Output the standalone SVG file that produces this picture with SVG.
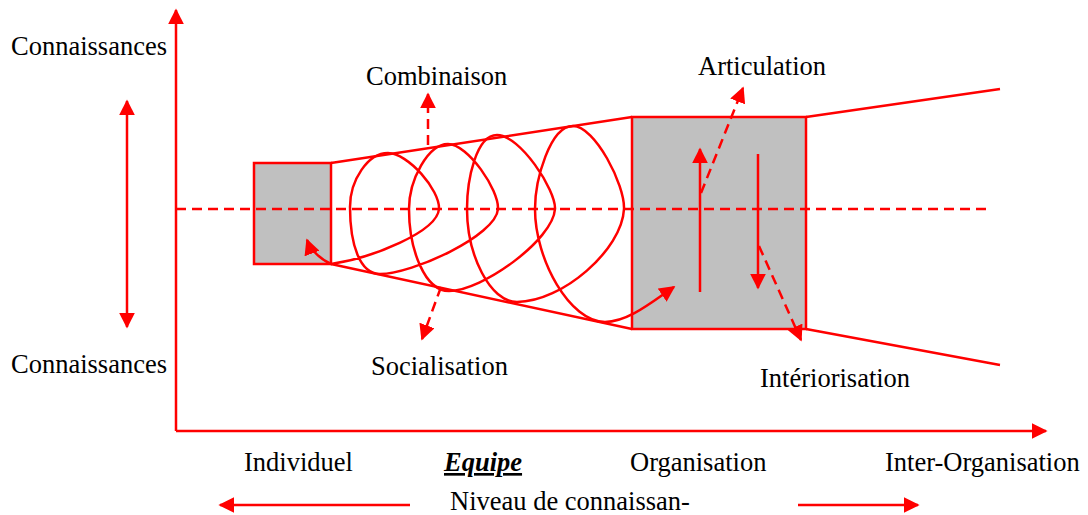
<svg xmlns="http://www.w3.org/2000/svg" width="1088" height="515" viewBox="0 0 1088 515">
<style>
.ln{stroke:#FF0000;stroke-width:2.5;fill:none}
.dsh{stroke:#FF0000;stroke-width:2.5;fill:none;stroke-dasharray:10 6}
.box{fill:#C0C0C0;stroke:#FF0000;stroke-width:2.5}
.t{font-family:"Liberation Serif","Times New Roman",serif;font-size:26.5px;fill:#000}
</style>
<defs>
<marker id="ah" viewBox="0 0 10 10" refX="9" refY="5" markerWidth="6.4" markerHeight="6.4" markerUnits="strokeWidth" orient="auto-start-reverse"><path d="M0,0 L10,5 L0,10 Z" fill="#FF0000"/></marker>
</defs>
<g id="axes">
<path class="ln" d="M176,431 L176,10" marker-end="url(#ah)"/>
<path class="ln" d="M176,431 L1046,431" marker-end="url(#ah)"/>
<path class="ln" d="M127,101 L127,327" marker-start="url(#ah)" marker-end="url(#ah)"/>
</g>
<g id="funnel">
<path class="ln" d="M331,163 L632,117 M331,264 L632,329 M806,117 L1000,89 M806,329 L1000,365"/>
</g>
<g id="individuel-box"><rect class="box" x="254" y="163" width="77" height="101"/></g>
<g id="organisation-box"><rect class="box" x="632" y="117" width="174" height="212"/></g>
<g id="centerline"><path class="dsh" d="M176,209 L992,209"/></g>
<g id="connectors">
<path class="ln" d="M331,264 C372,258 437,232 439,209 C440,190 408,153 388,153 C368,153 350,180 350,207 C350,245 360,274 380,274 C412,274 496,236 498,209 C499,190 468,144 448,144 C428,144 409,180 409,209 C409,250 425,291 449,291 C482,291 553,240 555,209 C556,190 520,135 497,135 C476,135 467,180 467,209 C467,255 490,302 517,302 C562,302 622,250 624,209 C625,185 595,126 573,126 C550,126 535,180 535,209 C535,260 570,322 605,322 C628,322 652,302 674,287" marker-end="url(#ah)"/>
<path class="ln" d="M331,264 C318,258 310,248 307,240" marker-end="url(#ah)"/>
<path class="dsh" d="M428,145 L428,94" marker-end="url(#ah)"/>
<path class="dsh" d="M441,287 L422,339" marker-end="url(#ah)"/>
<path class="dsh" d="M701,193 L743,88" marker-end="url(#ah)"/>
<path class="dsh" d="M759,246 L801,340" marker-end="url(#ah)"/>
<path class="ln" d="M700,292 L700,149" marker-end="url(#ah)"/>
<path class="ln" d="M758,154 L758,288" marker-end="url(#ah)"/>
<path class="ln" d="M410,505 L220,505" marker-end="url(#ah)"/>
<path class="ln" d="M798,505 L918,505" marker-end="url(#ah)"/>
</g>
<g id="labels">
<text class="t" x="11" y="55">Connaissances</text>
<text class="t" x="11" y="373">Connaissances</text>
<text class="t" x="366" y="85">Combinaison</text>
<text class="t" x="698" y="75">Articulation</text>
<text class="t" x="371" y="375">Socialisation</text>
<text class="t" x="760" y="387">Intériorisation</text>
<text class="t" x="244" y="471">Individuel</text>
<text class="t" x="444" y="471" style="font-weight:bold;font-style:italic;text-decoration:underline">Equipe</text>
<text class="t" x="630" y="471">Organisation</text>
<text class="t" x="885" y="471">Inter-Organisation</text>
<text class="t" x="450" y="510">Niveau de connaissan-</text>
</g>
</svg>
